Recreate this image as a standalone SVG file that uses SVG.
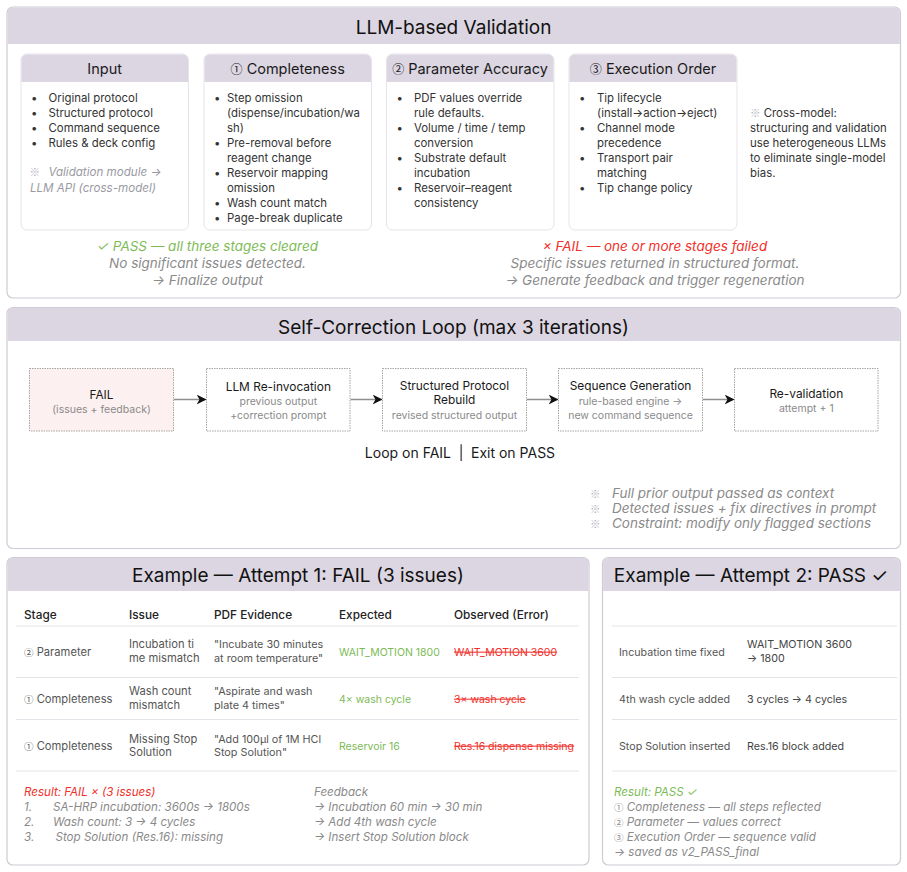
<svg xmlns="http://www.w3.org/2000/svg" width="907" height="872" viewBox="0 0 907 872">
<defs>
<style>
text{font-family:Inter,"Noto Sans","DejaVu Sans",sans-serif;}
.cj{font-family:"Noto Sans CJK JP",sans-serif;font-style:normal;}
.panel{fill:#ffffff;stroke:#cfcbd5;stroke-width:1.2;}
.hdr{fill:#dcd6e2;}
.ptitle{font-size:19px;fill:#111;text-anchor:middle;}
.sub{fill:#fff;stroke:#e6e3ea;stroke-width:1;}
.stitle{font-size:14.5px;fill:#1a1a1a;text-anchor:middle;}
.b{font-size:11.4px;fill:#333;}
.gi{font-size:13.5px;fill:#8a8a8a;font-style:italic;}
.gic{font-size:13.5px;fill:#8a8a8a;font-style:italic;text-anchor:middle;}
.grn{font-size:13.5px;fill:#7dbb57;font-style:italic;text-anchor:middle;}
.red{font-size:13.5px;fill:#f0302a;font-style:italic;text-anchor:middle;}
.fbox{fill:#fff;stroke:#8f8f8f;stroke-width:0.8;stroke-dasharray:1.5 1;}
.ft{font-size:11.9px;fill:#1a1a1a;text-anchor:middle;}
.fs{font-size:10.5px;fill:#8a8a8a;text-anchor:middle;}
.conn{stroke:#8f8f8f;stroke-width:1.5;fill:none;}
.th{font-size:11.8px;fill:#222;font-weight:500;}
.td{font-size:11.2px;fill:#555;}
.te{font-size:10.8px;fill:#555;}
.tg{font-size:10.5px;fill:#7dbb57;}
.tr{font-size:10.5px;fill:#f0302a;text-decoration:line-through;}
.t2{font-size:10.7px;fill:#555;}
.rule{stroke:#e4e2e8;stroke-width:1;}
.ri{font-size:11.6px;fill:#8a8a8a;font-style:italic;}
.rr{font-size:11.6px;fill:#f0302a;font-style:italic;}
.rg{font-size:11.6px;fill:#7dbb57;font-style:italic;}
</style>
<marker id="arr" viewBox="0 0 10 10" refX="9" refY="5" markerWidth="10" markerHeight="10" markerUnits="userSpaceOnUse" orient="auto">
<path d="M0,0 L10,5 L0,10 L3,5 Z" fill="#111"/>
</marker>
</defs>

<!-- Panel 1 -->
<g id="panel-validation">
<rect class="panel" x="7" y="7" width="893.5" height="291" rx="6"/>
<path class="hdr" d="M7.6,13 a5.4,5.4 0 0 1 5.4,-5.4 H894.5 a5.4,5.4 0 0 1 5.4,5.4 V44 H7.6 Z"/>
<text class="ptitle" x="453.5" y="33.5">LLM-based Validation</text>
</g>

<g id="node-input">
<rect class="sub" x="21" y="54" width="167.5" height="176" rx="6"/>
<path class="hdr" d="M21.5,60 a5.5,5.5 0 0 1 5.5,-5.5 H182.5 a5.5,5.5 0 0 1 5.5,5.5 V82 H21.5 Z"/>
<text class="stitle" x="104.7" y="74">Input</text>
<g class="b">
<text x="31" y="101.5">•</text><text x="48.5" y="101.5">Original protocol</text>
<text x="31" y="116.5">•</text><text x="48.5" y="116.5">Structured protocol</text>
<text x="31" y="131.5">•</text><text x="48.5" y="131.5">Command sequence</text>
<text x="31" y="146.5">•</text><text x="48.5" y="146.5">Rules &amp; deck config</text>
</g>
<text class="cj" x="29.5" y="176" style="font-size:10.5px;fill:#b0b0b6">※</text>
<text class="gi" x="48.5" y="176" style="font-size:11.6px;fill:#9a9aa2">Validation module →</text>
<text class="gi" x="30" y="191.5" style="font-size:11.6px;fill:#9a9aa2">LLM API (cross-model)</text>
</g>

<g id="node-completeness">
<rect class="sub" x="204" y="54" width="167.5" height="176" rx="6"/>
<path class="hdr" d="M204.5,60 a5.5,5.5 0 0 1 5.5,-5.5 H365.5 a5.5,5.5 0 0 1 5.5,5.5 V82 H204.5 Z"/>
<text class="stitle" x="287.7" y="74"><tspan class="cj" font-size="12px">①</tspan> Completeness</text>
<g class="b">
<text x="214" y="101.5">•</text><text x="227" y="101.5">Step omission</text>
<text x="227" y="116.5">(dispense/incubation/wa</text>
<text x="227" y="131.5">sh)</text>
<text x="214" y="146.5">•</text><text x="227" y="146.5">Pre-removal before</text>
<text x="227" y="161.5">reagent change</text>
<text x="214" y="176.5">•</text><text x="227" y="176.5">Reservoir mapping</text>
<text x="227" y="191.5">omission</text>
<text x="214" y="206.5">•</text><text x="227" y="206.5">Wash count match</text>
<text x="214" y="221.5">•</text><text x="227" y="221.5">Page-break duplicate</text>
</g>
</g>

<g id="node-parameter">
<rect class="sub" x="386.5" y="54" width="167.5" height="176" rx="6"/>
<path class="hdr" d="M387,60 a5.5,5.5 0 0 1 5.5,-5.5 H548 a5.5,5.5 0 0 1 5.5,5.5 V82 H387 Z"/>
<text class="stitle" x="470" y="74"><tspan class="cj" font-size="12px">②</tspan> Parameter Accuracy</text>
<g class="b">
<text x="396.5" y="101.5">•</text><text x="414" y="101.5">PDF values override</text>
<text x="414" y="116.5">rule defaults.</text>
<text x="396.5" y="131.5">•</text><text x="414" y="131.5">Volume / time / temp</text>
<text x="414" y="146.5">conversion</text>
<text x="396.5" y="161.5">•</text><text x="414" y="161.5">Substrate default</text>
<text x="414" y="176.5">incubation</text>
<text x="396.5" y="191.5">•</text><text x="414" y="191.5">Reservoir–reagent</text>
<text x="414" y="206.5">consistency</text>
</g>
</g>

<g id="node-execution">
<rect class="sub" x="569" y="54" width="168" height="176" rx="6"/>
<path class="hdr" d="M569.5,60 a5.5,5.5 0 0 1 5.5,-5.5 H731 a5.5,5.5 0 0 1 5.5,5.5 V82 H569.5 Z"/>
<text class="stitle" x="653" y="74"><tspan class="cj" font-size="12px">③</tspan> Execution Order</text>
<g class="b">
<text x="579" y="101.5">•</text><text x="597" y="101.5">Tip lifecycle</text>
<text x="597" y="116.5">(install→action→eject)</text>
<text x="579" y="131.5">•</text><text x="597" y="131.5">Channel mode</text>
<text x="597" y="146.5">precedence</text>
<text x="579" y="161.5">•</text><text x="597" y="161.5">Transport pair</text>
<text x="597" y="176.5">matching</text>
<text x="579" y="191.5">•</text><text x="597" y="191.5">Tip change policy</text>
</g>
</g>

<g id="note-crossmodel" class="b">
<text x="750" y="117"><tspan class="cj" fill="#b0b0b6" font-size="10.5px">※</tspan> Cross-model:</text>
<text x="750" y="132">structuring and validation</text>
<text x="750" y="147">use heterogeneous LLMs</text>
<text x="750" y="162">to eliminate single-model</text>
<text x="750" y="177">bias.</text>
</g>

<g id="pass-outcome">
<text class="grn" x="207.5" y="251">✓ PASS — all three stages cleared</text>
<text class="gic" x="207.5" y="268">No significant issues detected.</text>
<text class="gic" x="207.5" y="285">→ Finalize output</text>
</g>
<g id="fail-outcome">
<text class="red" x="655" y="251">× FAIL — one or more stages failed</text>
<text class="gic" x="655" y="268">Specific issues returned in structured format.</text>
<text class="gic" x="655" y="285">→ Generate feedback and trigger regeneration</text>
</g>

<!-- Panel 2 -->
<g id="panel-loop">
<rect class="panel" x="7" y="307.5" width="893.5" height="241" rx="6"/>
<path class="hdr" d="M7.6,313.5 a5.4,5.4 0 0 1 5.4,-5.4 H894.5 a5.4,5.4 0 0 1 5.4,5.4 V341 H7.6 Z"/>
<text class="ptitle" x="453.5" y="333.5">Self-Correction Loop (max 3 iterations)</text>
</g>

<g id="node-fail">
<rect class="fbox" x="29.5" y="368.5" width="144" height="62.5" style="fill:#fdf0f0"/>
<text class="ft" x="101.5" y="398.5">FAIL</text>
<text class="fs" x="101.5" y="412.5">(issues + feedback)</text>
</g>
<g id="node-reinvoke">
<rect class="fbox" x="206.5" y="368.5" width="143.5" height="62.5"/>
<text class="ft" x="278.3" y="391">LLM Re-invocation</text>
<text class="fs" x="278.3" y="405">previous output</text>
<text class="fs" x="278.3" y="418.5">+correction prompt</text>
</g>
<g id="node-rebuild">
<rect class="fbox" x="382.5" y="368.5" width="144" height="62.5"/>
<text class="ft" x="454.5" y="390">Structured Protocol</text>
<text class="ft" x="454.5" y="404">Rebuild</text>
<text class="fs" x="454.5" y="418.5">revised structured output</text>
</g>
<g id="node-seqgen">
<rect class="fbox" x="558.5" y="368.5" width="144" height="62.5"/>
<text class="ft" x="630.5" y="390">Sequence Generation</text>
<text class="fs" x="630.5" y="405">rule-based engine →</text>
<text class="fs" x="630.5" y="418.5">new command sequence</text>
</g>
<g id="node-revalidate">
<rect class="fbox" x="734.5" y="368.5" width="143.5" height="62.5"/>
<text class="ft" x="806.3" y="397.5">Re-validation</text>
<text class="fs" x="806.3" y="411.5">attempt + 1</text>
</g>

<g id="connectors">
<line class="conn" x1="174" y1="399.5" x2="205.5" y2="399.5" marker-end="url(#arr)"/>
<line class="conn" x1="350.5" y1="399.5" x2="381.5" y2="399.5" marker-end="url(#arr)"/>
<line class="conn" x1="527" y1="399.5" x2="557.5" y2="399.5" marker-end="url(#arr)"/>
<line class="conn" x1="703" y1="399.5" x2="733.5" y2="399.5" marker-end="url(#arr)"/>
</g>

<g id="loop-rule" style="font-size:14px;fill:#1a1a1a">
<text x="451" y="458" text-anchor="end">Loop on FAIL</text>
<text x="461" y="458" text-anchor="middle">|</text>
<text x="471" y="458">Exit on PASS</text>
</g>

<g id="loop-notes" class="gi" style="font-size:13.5px">
<text class="cj" x="590" y="497.5" style="font-size:10.5px;fill:#b0b0b6">※</text><text x="612" y="498">Full prior output passed as context</text>
<text class="cj" x="590" y="512.5" style="font-size:10.5px;fill:#b0b0b6">※</text><text x="612" y="513">Detected issues + fix directives in prompt</text>
<text class="cj" x="590" y="527.5" style="font-size:10.5px;fill:#b0b0b6">※</text><text x="612" y="528">Constraint: modify only flagged sections</text>
</g>

<!-- Panel 3 -->
<g id="panel-attempt1">
<rect class="panel" x="7" y="557.5" width="582" height="307.5" rx="6"/>
<path class="hdr" d="M7.6,563.5 a5.4,5.4 0 0 1 5.4,-5.4 H583 a5.4,5.4 0 0 1 5.4,5.4 V591 H7.6 Z"/>
<text class="ptitle" x="298" y="582">Example — Attempt 1: FAIL (3 issues)</text>
<g class="th">
<text x="24" y="618.5">Stage</text>
<text x="129" y="618.5">Issue</text>
<text x="214" y="618.5">PDF Evidence</text>
<text x="339" y="618.5">Expected</text>
<text x="454" y="618.5">Observed (Error)</text>
</g>
<line class="rule" x1="16" y1="626" x2="579" y2="626"/>
<line class="rule" x1="16" y1="677.5" x2="579" y2="677.5"/>
<line class="rule" x1="16" y1="719.5" x2="579" y2="719.5"/>
<line class="rule" x1="16" y1="771" x2="579" y2="771"/>

<text class="td" x="24" y="655.5"><tspan class="cj" font-size="9.5px">②</tspan> Parameter</text>
<text class="td" x="129" y="648">Incubation ti</text>
<text class="td" x="129" y="662">me mismatch</text>
<text class="te" x="214" y="648">"Incubate 30 minutes</text>
<text class="te" x="214" y="662">at room temperature"</text>
<text class="tg" x="339" y="655.5">WAIT_MOTION 1800</text>
<text class="tr" x="454" y="655.5">WAIT_MOTION 3600</text>

<text class="td" x="24" y="702.5"><tspan class="cj" font-size="9.5px">①</tspan> Completeness</text>
<text class="td" x="129" y="695">Wash count</text>
<text class="td" x="129" y="709">mismatch</text>
<text class="te" x="214" y="695">"Aspirate and wash</text>
<text class="te" x="214" y="709">plate 4 times"</text>
<text class="tg" x="339" y="702.5">4× wash cycle</text>
<text class="tr" x="454" y="702.5">3× wash cycle</text>

<text class="td" x="24" y="749.5"><tspan class="cj" font-size="9.5px">①</tspan> Completeness</text>
<text class="td" x="129" y="742.5">Missing Stop</text>
<text class="td" x="129" y="756">Solution</text>
<text class="te" x="214" y="742.5">"Add 100μl of 1M HCl</text>
<text class="te" x="214" y="756">Stop Solution"</text>
<text class="tg" x="339" y="749.5">Reservoir 16</text>
<text class="tr" x="454" y="749.5">Res.16 dispense missing</text>

<text class="rr" x="24" y="795.5">Result: FAIL × (3 issues)</text>
<text class="ri" x="24" y="810.5">1.</text><text class="ri" x="53" y="810.5">SA-HRP incubation: 3600s → 1800s</text>
<text class="ri" x="24" y="825.5">2.</text><text class="ri" x="53" y="825.5">Wash count: 3 → 4 cycles</text>
<text class="ri" x="24" y="840.5">3.</text><text class="ri" x="55.5" y="840.5">Stop Solution (Res.16): missing</text>

<text class="ri" x="314" y="795.5">Feedback</text>
<text class="ri" x="314" y="810.5">→ Incubation 60 min → 30 min</text>
<text class="ri" x="314" y="825.5">→ Add 4th wash cycle</text>
<text class="ri" x="314" y="840.5">→ Insert Stop Solution block</text>
</g>

<!-- Panel 4 -->
<g id="panel-attempt2">
<rect class="panel" x="602.5" y="557.5" width="298" height="307.5" rx="6"/>
<path class="hdr" d="M603.1,563.5 a5.4,5.4 0 0 1 5.4,-5.4 H894.5 a5.4,5.4 0 0 1 5.4,5.4 V591 H603.1 Z"/>
<text class="ptitle" x="751" y="582">Example — Attempt 2: PASS ✓</text>
<line class="rule" x1="612" y1="626" x2="897" y2="626"/>
<line class="rule" x1="612" y1="677.5" x2="897" y2="677.5"/>
<line class="rule" x1="612" y1="719.5" x2="897" y2="719.5"/>
<line class="rule" x1="612" y1="771" x2="897" y2="771"/>

<text class="t2" x="619" y="655.5">Incubation time fixed</text>
<text class="t2" x="747" y="648" style="fill:#444">WAIT_MOTION 3600</text>
<text class="t2" x="747" y="662" style="fill:#444">→ 1800</text>
<text class="t2" x="619" y="702.5">4th wash cycle added</text>
<text class="t2" x="747" y="702.5" style="fill:#444">3 cycles → 4 cycles</text>
<text class="t2" x="619" y="749.5">Stop Solution inserted</text>
<text class="t2" x="747" y="749.5" style="fill:#444">Res.16 block added</text>

<text class="rg" x="614" y="795.5">Result: PASS ✓</text>
<text class="ri" x="614" y="810.5"><tspan class="cj" font-size="9.5px">①</tspan> Completeness — all steps reflected</text>
<text class="ri" x="614" y="825.5"><tspan class="cj" font-size="9.5px">②</tspan> Parameter — values correct</text>
<text class="ri" x="614" y="840.5"><tspan class="cj" font-size="9.5px">③</tspan> Execution Order — sequence valid</text>
<text class="ri" x="614" y="855.5">→ saved as v2_PASS_final</text>
</g>
</svg>
